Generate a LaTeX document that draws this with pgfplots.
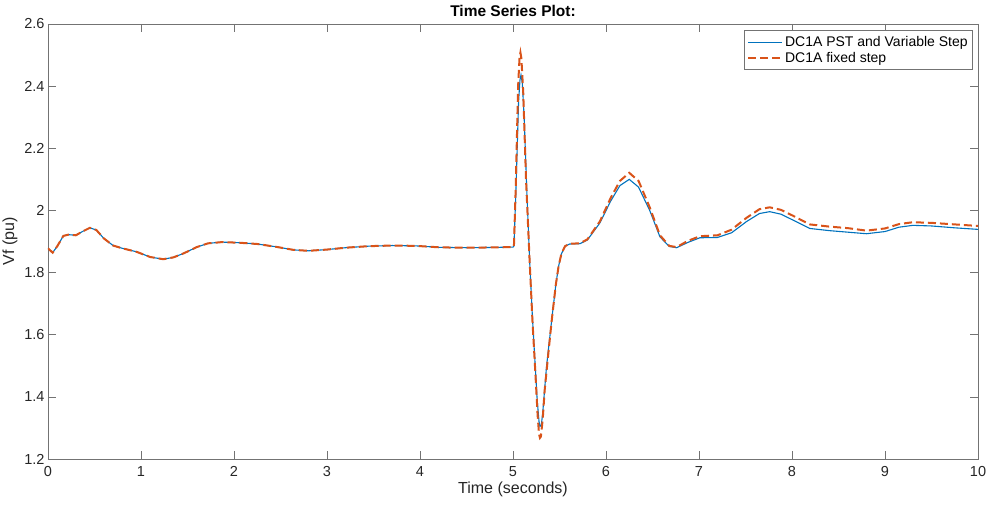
\documentclass[border=0pt]{standalone}
\usepackage{fontspec}
\setmainfont{Liberation Sans}
\usepackage{pgfplots}
\pgfplotsset{compat=1.18}

\definecolor{mblue}{RGB}{0,114,189}
\definecolor{morange}{RGB}{217,83,25}

\begin{document}
\begin{tikzpicture}
\path[use as bounding box] (-48pt,-52pt) rectangle (941pt,459pt);
\begin{axis}[
  at={(0pt,0pt)}, anchor=south west,
  scale only axis,
  width=930pt, height=435pt,
  xmin=0, xmax=10, ymin=1.2, ymax=2.6,
  xtick={0,1,...,10},
  ytick={1.2,1.4,1.6,1.8,2,2.2,2.4,2.6},
  yticklabel style={/pgf/number format/fixed},
  xticklabel style={yshift=-4pt},
  /pgf/number format/assume math mode=true,
  tick align=inside,
  major tick length=8pt,
  axis line style={black!55},
  tick style={black!55, line width=0.6pt},
  ticklabel style={font=\fontsize{14.5}{16}\selectfont, text=black!85},
  title={Time Series Plot:},
  title style={font=\fontsize{15.5}{17}\selectfont\bfseries, yshift=-2pt},
  xlabel={Time (seconds)},
  xlabel style={yshift=2pt},
  ylabel={Vf (pu)},
  label style={font=\fontsize{16}{18}\selectfont, text=black!85},
  legend style={at={(0.9945,0.986)}, anchor=north east, draw=black!55,
    font=\fontsize{14}{16}\selectfont, inner xsep=3pt, inner ysep=4pt, row sep=0pt,
    legend cell align=left},
  legend image code/.code={\draw[#1] (0pt,0pt) -- (34pt,0pt);},
]
\addplot[mblue, line width=1.1pt] coordinates {
(0,1.878) (0.05,1.864) (0.1,1.885) (0.165,1.918) (0.22,1.922) (0.3,1.920)
(0.37,1.932) (0.45,1.944) (0.52,1.937) (0.6,1.910) (0.7,1.887) (0.8,1.878)
(0.95,1.867) (1.1,1.850) (1.24,1.843) (1.35,1.849) (1.46,1.862) (1.6,1.882)
(1.72,1.894) (1.87,1.898) (2.06,1.896) (2.25,1.892) (2.45,1.883) (2.64,1.873)
(2.8,1.870) (3.0,1.874) (3.2,1.880) (3.45,1.885) (3.7,1.887) (3.95,1.886)
(4.22,1.881) (4.5,1.880) (4.8,1.881) (5.0,1.882) (5.01,1.885) (5.03,2.05)
(5.06,2.35) (5.075,2.42) (5.086,2.436) (5.10,2.41) (5.12,2.30) (5.15,2.05) (5.18,1.83) (5.21,1.65)
(5.237,1.51) (5.26,1.39) (5.28,1.32) (5.29,1.305) (5.305,1.31) (5.32,1.35) (5.36,1.496) (5.416,1.647)
(5.46,1.76) (5.49,1.82) (5.52,1.86) (5.56,1.885) (5.61,1.892) (5.72,1.893)
(5.8,1.905) (5.935,1.96) (6.05,2.03) (6.15,2.08) (6.25,2.100) (6.35,2.075)
(6.47,2.000) (6.58,1.915) (6.68,1.884) (6.76,1.880) (6.88,1.897) (7.01,1.912)
(7.2,1.913) (7.35,1.928) (7.51,1.964) (7.65,1.990) (7.76,1.996) (7.88,1.988)
(8.01,1.969) (8.19,1.942) (8.4,1.935) (8.6,1.930) (8.8,1.925) (9.0,1.932)
(9.15,1.946) (9.3,1.952) (9.5,1.950) (9.75,1.944) (10,1.939)
};
\addlegendentry{DC1A PST and Variable Step}
\addplot[morange, line width=2pt, dash pattern=on 8pt off 4pt] coordinates {
(0,1.878) (0.05,1.864) (0.1,1.885) (0.165,1.918) (0.22,1.922) (0.3,1.920)
(0.37,1.932) (0.45,1.944) (0.52,1.937) (0.6,1.910) (0.7,1.887) (0.8,1.878)
(0.95,1.867) (1.1,1.850) (1.24,1.843) (1.35,1.849) (1.46,1.862) (1.6,1.882)
(1.72,1.894) (1.87,1.898) (2.06,1.896) (2.25,1.892) (2.45,1.883) (2.64,1.873)
(2.8,1.870) (3.0,1.874) (3.2,1.880) (3.45,1.885) (3.7,1.887) (3.95,1.886)
(4.22,1.881) (4.5,1.880) (4.8,1.881) (5.0,1.882) (5.01,1.885) (5.03,2.08)
(5.055,2.40) (5.07,2.49) (5.08,2.508) (5.09,2.49) (5.11,2.38) (5.14,2.10) (5.18,1.83) (5.21,1.64)
(5.24,1.48) (5.265,1.34) (5.28,1.28) (5.29,1.268) (5.30,1.272) (5.32,1.33) (5.34,1.42) (5.38,1.54)
(5.416,1.645) (5.46,1.76) (5.49,1.82) (5.52,1.86) (5.56,1.885) (5.61,1.893)
(5.72,1.894) (5.8,1.907) (5.935,1.965) (6.05,2.04) (6.15,2.095) (6.25,2.121)
(6.35,2.095) (6.47,2.01) (6.58,1.92) (6.68,1.886) (6.76,1.882) (6.88,1.902)
(7.01,1.917) (7.2,1.920) (7.35,1.938) (7.51,1.976) (7.65,2.004) (7.76,2.010)
(7.88,2.002) (8.01,1.983) (8.19,1.955) (8.4,1.948) (8.6,1.943) (8.8,1.935)
(9.0,1.942) (9.15,1.956) (9.3,1.962) (9.5,1.960) (9.75,1.955) (10,1.950)
};
\addlegendentry{DC1A fixed step}
\end{axis}
\end{tikzpicture}
\end{document}
